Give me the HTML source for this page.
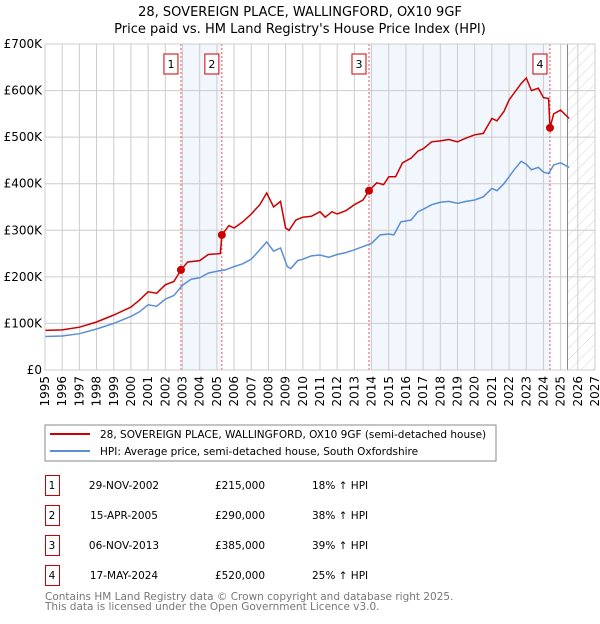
<!DOCTYPE html>
<html><head><meta charset="utf-8"><style>
body{margin:0;background:#fff;font-family:"DejaVu Sans","Liberation Sans",sans-serif}
svg text{font-family:"DejaVu Sans","Liberation Sans",sans-serif}
</style></head><body>
<svg id="c" width="600" height="620" xmlns="http://www.w3.org/2000/svg">
<defs><pattern id="hatch" width="8" height="8" patternUnits="userSpaceOnUse" patternTransform="rotate(45)"><line x1="0" y1="0" x2="0" y2="8" stroke="#d4d4d4" stroke-width="1"/></pattern></defs>
<text x="300" y="16" text-anchor="middle" font-size="13">28, SOVEREIGN PLACE, WALLINGFORD, OX10 9GF</text>
<text x="300" y="33" text-anchor="middle" font-size="13">Price paid vs. HM Land Registry's House Price Index (HPI)</text>
<g id="plot"></g>
<rect x="45" y="425" width="451" height="36" fill="#fff" stroke="#888"/>
<line x1="50" y1="434" x2="90" y2="434" stroke="#cc0000" stroke-width="2"/>
<text x="100" y="438" font-size="10.5">28, SOVEREIGN PLACE, WALLINGFORD, OX10 9GF (semi-detached house)</text>
<line x1="50" y1="451" x2="90" y2="451" stroke="#5b8fd4" stroke-width="2"/>
<text x="100" y="455" font-size="10.5">HPI: Average price, semi-detached house, South Oxfordshire</text>
<g id="table"></g>
<text x="45" y="600" font-size="10.5" fill="#777">Contains HM Land Registry data © Crown copyright and database right 2025.</text>
<text x="45" y="610" font-size="10.5" fill="#777">This data is licensed under the Open Government Licence v3.0.</text>
</svg>
<script>
const hpiYears=[1995,1996,1997,1998,1999,2000,2000.5,2001,2001.5,2002,2002.5,2003,2003.5,2004,2004.5,2005,2005.5,2006,2006.5,2007,2007.5,2007.9,2008.3,2008.7,2009.1,2009.3,2009.7,2010,2010.5,2011,2011.5,2012,2012.5,2013,2013.5,2014,2014.5,2015,2015.3,2015.7,2016.3,2016.7,2017,2017.5,2018,2018.5,2019,2019.5,2020,2020.5,2021,2021.3,2021.7,2022,2022.3,2022.7,2023,2023.3,2023.7,2024,2024.3,2024.6,2025,2025.5];
const hpiValues=[72,73,78,88,100,115,125,140,137,152,160,182,195,198,208,212,215,222,228,238,258,275,255,262,222,218,235,238,245,247,242,248,252,258,265,272,290,292,290,318,322,340,345,355,360,362,358,362,365,372,390,385,400,415,430,448,442,430,435,425,422,440,445,435];
const propYears=[1995,1996,1997,1998,1999,2000,2000.5,2001,2001.5,2002,2002.5,2002.91,2003.3,2004,2004.5,2005.2,2005.29,2005.7,2006,2006.5,2007,2007.5,2007.9,2008.3,2008.7,2009.0,2009.2,2009.6,2010,2010.5,2011,2011.3,2011.7,2012,2012.5,2013,2013.5,2013.85,2014.3,2014.7,2015,2015.4,2015.8,2016.3,2016.7,2017,2017.5,2018,2018.5,2019,2019.5,2020,2020.5,2021,2021.3,2021.7,2022,2022.3,2022.7,2023,2023.3,2023.7,2024,2024.3,2024.38,2024.6,2025,2025.5];
const propValues=[85,86,92,103,118,135,150,168,165,183,190,215,232,235,248,250,290,310,305,318,335,355,380,350,362,305,300,322,328,330,340,328,340,335,342,355,365,385,402,398,415,415,445,455,470,475,490,492,495,490,498,505,508,540,535,555,580,595,615,627,600,605,585,583,520,550,558,540];
const saleLabels=["1","2","3","4"];
const saleYears=[2002.91,2005.29,2013.85,2024.38];
const salePrices=[215,290,385,520];
const saleDates=["29-NOV-2002","15-APR-2005","06-NOV-2013","17-MAY-2024"];
const salePriceText=["£215,000","£290,000","£385,000","£520,000"];
const saleHpiText=["18% ↑ HPI","38% ↑ HPI","39% ↑ HPI","25% ↑ HPI"];
const yTicks=[0,100,200,300,400,500,600,700];
const yTickLabels=["£0","£100K","£200K","£300K","£400K","£500K","£600K","£700K"];
const xTicks=[1995,1996,1997,1998,1999,2000,2001,2002,2003,2004,2005,2006,2007,2008,2009,2010,2011,2012,2013,2014,2015,2016,2017,2018,2019,2020,2021,2022,2023,2024,2025,2026,2027];
const dataEnd=2025.4;

const NS="http://www.w3.org/2000/svg";
const X0=45,X1=595,Y0=370,Y1=44;
const xs=y=>X0+(y-1995)/(2027-1995)*(X1-X0);
const ys=v=>Y0-v/700*(Y0-Y1);
const plot=document.getElementById('plot');
function mk(t,a,p){const e=document.createElementNS(NS,t);for(const k in a)e.setAttribute(k,a[k]);(p||plot).appendChild(e);return e;}

let e;
e=mk('rect',{x:xs(saleYears[0]),y:Y1,width:xs(saleYears[1])-xs(saleYears[0]),height:Y0-Y1,fill:'#f2f6fd'});


e=mk('rect',{x:xs(saleYears[2]),y:Y1,width:xs(saleYears[3])-xs(saleYears[2]),height:Y0-Y1,fill:'#f2f6fd'});


e=mk('rect',{x:xs(dataEnd),y:Y1,width:X1-xs(dataEnd),height:Y0-Y1,fill:'url(#hatch)'});


xTicks.forEach(t=>{
 e=mk('line',{x1:xs(t),x2:xs(t),y1:Y1,y2:Y0,stroke:'#ccc','stroke-width':1});
 
 
 e=mk('text',{x:0,y:0,'font-size':12,'text-anchor':'end',transform:`translate(${xs(t)+4},${Y0+6}) rotate(-90)`});
 e.textContent=t;
 
 
});
yTicks.forEach((t,i)=>{
 e=mk('line',{x1:X0,x2:X1,y1:ys(t),y2:ys(t),stroke:'#ccc','stroke-width':1});
 
 
 e=mk('text',{x:X0-3,y:ys(t)+4,'font-size':12,'text-anchor':'end'});
 e.textContent=yTickLabels[i];
 
 
});
e=mk('line',{x1:xs(dataEnd),x2:xs(dataEnd),y1:Y1,y2:Y0,stroke:'#888','stroke-width':1});


saleYears.forEach((s,i)=>{
 e=mk('line',{x1:xs(s),x2:xs(s),y1:Y1,y2:Y0,stroke:'#e55','stroke-width':1,'stroke-dasharray':'2,2'});
 
 
});
e=mk('path',{d:hpiYears.map((y,i)=>(i?'L':'M')+xs(y).toFixed(1)+','+ys(hpiValues[i]).toFixed(1)).join(''),fill:'none',stroke:'#5b8fd4','stroke-width':1.5});


e=mk('path',{d:propYears.map((y,i)=>(i?'L':'M')+xs(y).toFixed(1)+','+ys(propValues[i]).toFixed(1)).join(''),fill:'none',stroke:'#cc0000','stroke-width':1.5});


saleYears.forEach((s,i)=>{
 e=mk('circle',{cx:xs(s),cy:ys(salePrices[i]),r:4,fill:'#cc0000'});
 
 
 const bx=xs(s)-17;
 e=mk('rect',{x:bx,y:54,width:14,height:20,fill:'#fff',stroke:'#cc0000'});
 
 
 e=mk('text',{x:bx+7,y:68,'font-size':11,'text-anchor':'middle'});
 e.textContent=saleLabels[i];
 
 
});
e=mk('rect',{x:X0,y:Y1,width:X1-X0,height:Y0-Y1,fill:'none',stroke:'#ccc'});



const tb=document.getElementById('table');
saleLabels.forEach((l,i)=>{
 const y=475+i*30;
 e=mk('rect',{x:45.5,y:y+0.5,width:14,height:20,fill:'#fff',stroke:'#cc0000'},tb);
 
 
 const cols=[[52,l,'middle'],[124,saleDates[i],'middle'],[240,salePriceText[i],'middle'],[312,saleHpiText[i],'start']];
 cols.forEach(c=>{
  e=mk('text',{x:c[0],y:y+14,'font-size':10.5,'text-anchor':c[2]},tb);
  e.textContent=c[1];
  
  
 });
});
</script>
</body></html>
